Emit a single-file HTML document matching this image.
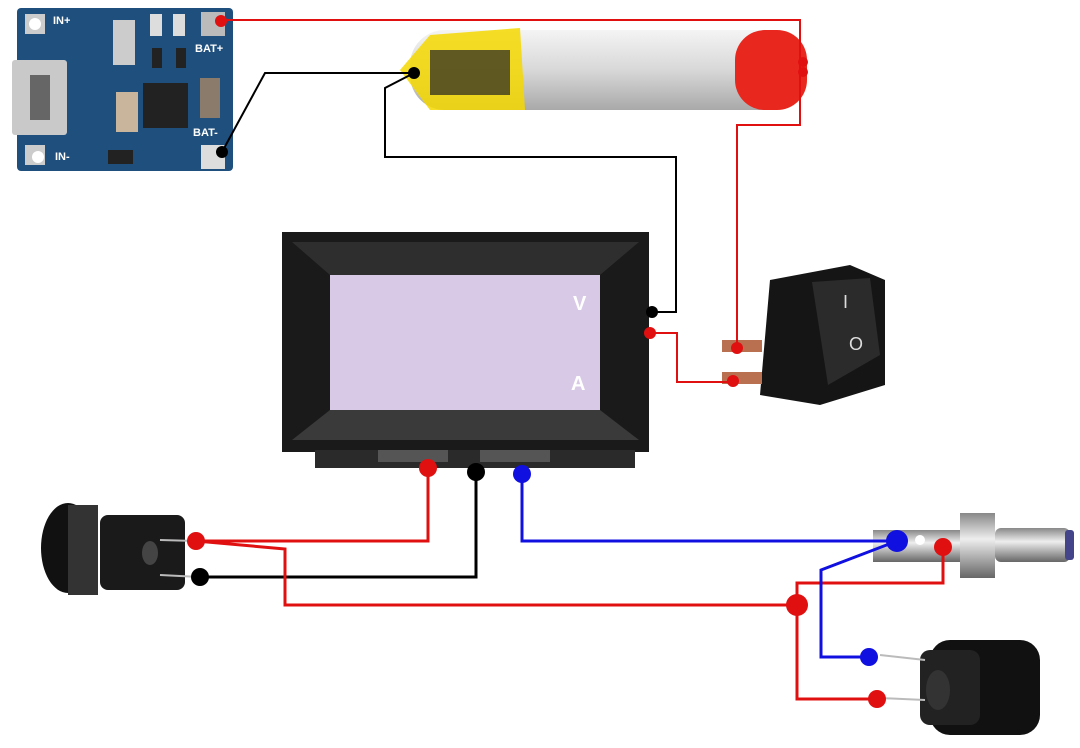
<!DOCTYPE html>
<html><head><style>body{margin:0;background:#fff}svg{display:block}</style></head><body>
<svg width="1080" height="748" viewBox="0 0 1080 748" xmlns="http://www.w3.org/2000/svg" font-family="Liberation Sans, sans-serif">
<defs>
<linearGradient id="bat" x1="0" y1="0" x2="0" y2="1"><stop offset="0" stop-color="#f4f4f4"/><stop offset=".5" stop-color="#d8d8d8"/><stop offset="1" stop-color="#a9a9a9"/></linearGradient>
<linearGradient id="met" x1="0" y1="0" x2="0" y2="1"><stop offset="0" stop-color="#888"/><stop offset=".4" stop-color="#eee"/><stop offset="1" stop-color="#666"/></linearGradient>
</defs>
<!-- PCB -->
<rect x="17" y="8" width="216" height="163" rx="4" fill="#1f4f7d"/>
<rect x="25" y="14" width="20" height="20" fill="#ccc"/><circle cx="35" cy="24" r="6" fill="#fff"/>
<rect x="25" y="145" width="20" height="20" fill="#ccc"/><circle cx="38" cy="157" r="6" fill="#fff"/>
<rect x="201" y="12" width="24" height="24" fill="#bbb"/><rect x="201" y="145" width="24" height="24" fill="#ddd"/>
<rect x="12" y="60" width="55" height="75" rx="3" fill="#c9c9c9"/><rect x="30" y="75" width="20" height="45" fill="#666"/>
<rect x="143" y="83" width="45" height="45" fill="#222"/>
<rect x="113" y="20" width="22" height="45" fill="#ccc"/><rect x="116" y="92" width="22" height="40" fill="#c8b59c"/>
<rect x="200" y="78" width="20" height="40" fill="#8b7b6a"/>
<rect x="150" y="14" width="12" height="22" fill="#ddd"/><rect x="173" y="14" width="12" height="22" fill="#ddd"/>
<rect x="152" y="48" width="10" height="20" fill="#222"/><rect x="176" y="48" width="10" height="20" fill="#222"/>
<rect x="108" y="150" width="25" height="14" fill="#222"/>
<text x="53" y="24" font-size="11" font-weight="bold" fill="#fff">IN+</text>
<text x="55" y="160" font-size="11" font-weight="bold" fill="#fff">IN-</text>
<text x="195" y="52" font-size="11" font-weight="bold" fill="#fff">BAT+</text>
<text x="193" y="136" font-size="11" font-weight="bold" fill="#fff">BAT-</text>
<!-- battery -->
<rect x="410" y="30" width="395" height="80" rx="35" fill="url(#bat)"/>
<path d="M400 70 L430 35 L520 28 L525 110 L430 110 Z" fill="#f5d800" opacity=".85"/>
<rect x="430" y="50" width="80" height="45" fill="#222" opacity=".7"/>
<rect x="735" y="30" width="72" height="80" rx="30" fill="#e8281e"/>
<!-- display -->
<rect x="282" y="232" width="367" height="220" fill="#1a1a1a"/>
<path d="M292 242 L639 242 L600 275 L330 275 Z" fill="#2e2e2e"/>
<path d="M292 440 L639 440 L600 410 L330 410 Z" fill="#3a3a3a"/>
<rect x="330" y="275" width="270" height="135" fill="#d8c9e6"/>
<rect x="315" y="450" width="320" height="18" fill="#2a2a2a"/>
<rect x="378" y="450" width="70" height="12" fill="#555"/><rect x="480" y="450" width="70" height="12" fill="#555"/>
<text x="573" y="310" font-size="20" font-weight="bold" fill="#fff">V</text>
<text x="571" y="390" font-size="20" font-weight="bold" fill="#fff">A</text>
<!-- switch -->
<path d="M770 280 L850 265 L885 280 L885 385 L820 405 L760 395 Z" fill="#151515"/>
<path d="M812 282 L870 278 L880 355 L828 385 Z" fill="#2b2b2b"/>
<rect x="722" y="340" width="40" height="12" fill="#b87050"/><rect x="722" y="372" width="40" height="12" fill="#b87050"/>
<text x="843" y="308" font-size="18" fill="#ddd">I</text><text x="849" y="350" font-size="18" fill="#ddd">O</text>
<!-- left jack -->
<ellipse cx="68" cy="548" rx="27" ry="45" fill="#111"/>
<rect x="68" y="505" width="30" height="90" fill="#333"/>
<rect x="100" y="515" width="85" height="75" rx="8" fill="#1a1a1a"/>
<ellipse cx="150" cy="553" rx="8" ry="12" fill="#444"/>
<line x1="160" y1="540" x2="196" y2="541" stroke="#bbb" stroke-width="2"/><line x1="160" y1="575" x2="200" y2="577" stroke="#bbb" stroke-width="2"/>
<!-- right plug -->
<rect x="873" y="530" width="90" height="32" fill="url(#met)"/>
<rect x="960" y="513" width="35" height="65" fill="url(#met)"/>
<rect x="995" y="528" width="75" height="34" rx="6" fill="url(#met)"/>
<rect x="1065" y="530" width="9" height="30" rx="3" fill="#44448a"/>
<circle cx="920" cy="540" r="5" fill="#fff"/>
<!-- bottom jack -->
<rect x="930" y="640" width="110" height="95" rx="20" fill="#111"/>
<rect x="920" y="650" width="60" height="75" rx="10" fill="#222"/>
<ellipse cx="938" cy="690" rx="12" ry="20" fill="#333"/>
<line x1="880" y1="655" x2="925" y2="660" stroke="#bbb" stroke-width="2"/><line x1="880" y1="698" x2="925" y2="700" stroke="#bbb" stroke-width="2"/>
<!-- wires -->
<g fill="none" stroke-width="3">
<polyline points="221,20 800,20 800,125 737,125 737,348" stroke="#e01010" stroke-width="2"/>
<polyline points="222,152 265,73 414,73" stroke="#000" stroke-width="2"/>
<polyline points="414,73 385,88 385,157 676,157 676,312 652,312" stroke="#000" stroke-width="2"/>
<polyline points="650,333 677,333 677,382 733,382" stroke="#e01010" stroke-width="2"/>
<polyline points="428,468 428,541 196,541" stroke="#e01010"/>
<polyline points="476,472 476,577 200,577" stroke="#000"/>
<polyline points="522,474 522,541 897,541" stroke="#1010e0"/>
<polyline points="196,541 285,549 285,605 797,605" stroke="#e01010"/>
<polyline points="797,605 797,583 943,583 943,547" stroke="#e01010"/>
<polyline points="797,605 797,699 877,699" stroke="#e01010"/>
<polyline points="897,541 821,570 821,657 869,657" stroke="#1010e0"/>
</g>
<g>
<circle cx="221" cy="21" r="6" fill="#e01010"/><circle cx="803" cy="62" r="5" fill="#e01010"/><circle cx="803" cy="72" r="5" fill="#e01010"/>
<circle cx="737" cy="348" r="6" fill="#e01010"/><circle cx="733" cy="381" r="6" fill="#e01010"/><circle cx="650" cy="333" r="6" fill="#e01010"/>
<circle cx="222" cy="152" r="6" fill="#000"/><circle cx="414" cy="73" r="6" fill="#000"/><circle cx="652" cy="312" r="6" fill="#000"/>
<circle cx="428" cy="468" r="9" fill="#e01010"/><circle cx="476" cy="472" r="9" fill="#000"/><circle cx="522" cy="474" r="9" fill="#1010e0"/>
<circle cx="196" cy="541" r="9" fill="#e01010"/><circle cx="200" cy="577" r="9" fill="#000"/>
<circle cx="897" cy="541" r="11" fill="#1010e0"/><circle cx="943" cy="547" r="9" fill="#e01010"/>
<circle cx="797" cy="605" r="11" fill="#e01010"/><circle cx="869" cy="657" r="9" fill="#1010e0"/><circle cx="877" cy="699" r="9" fill="#e01010"/>
</g>
</svg>
</body></html>
